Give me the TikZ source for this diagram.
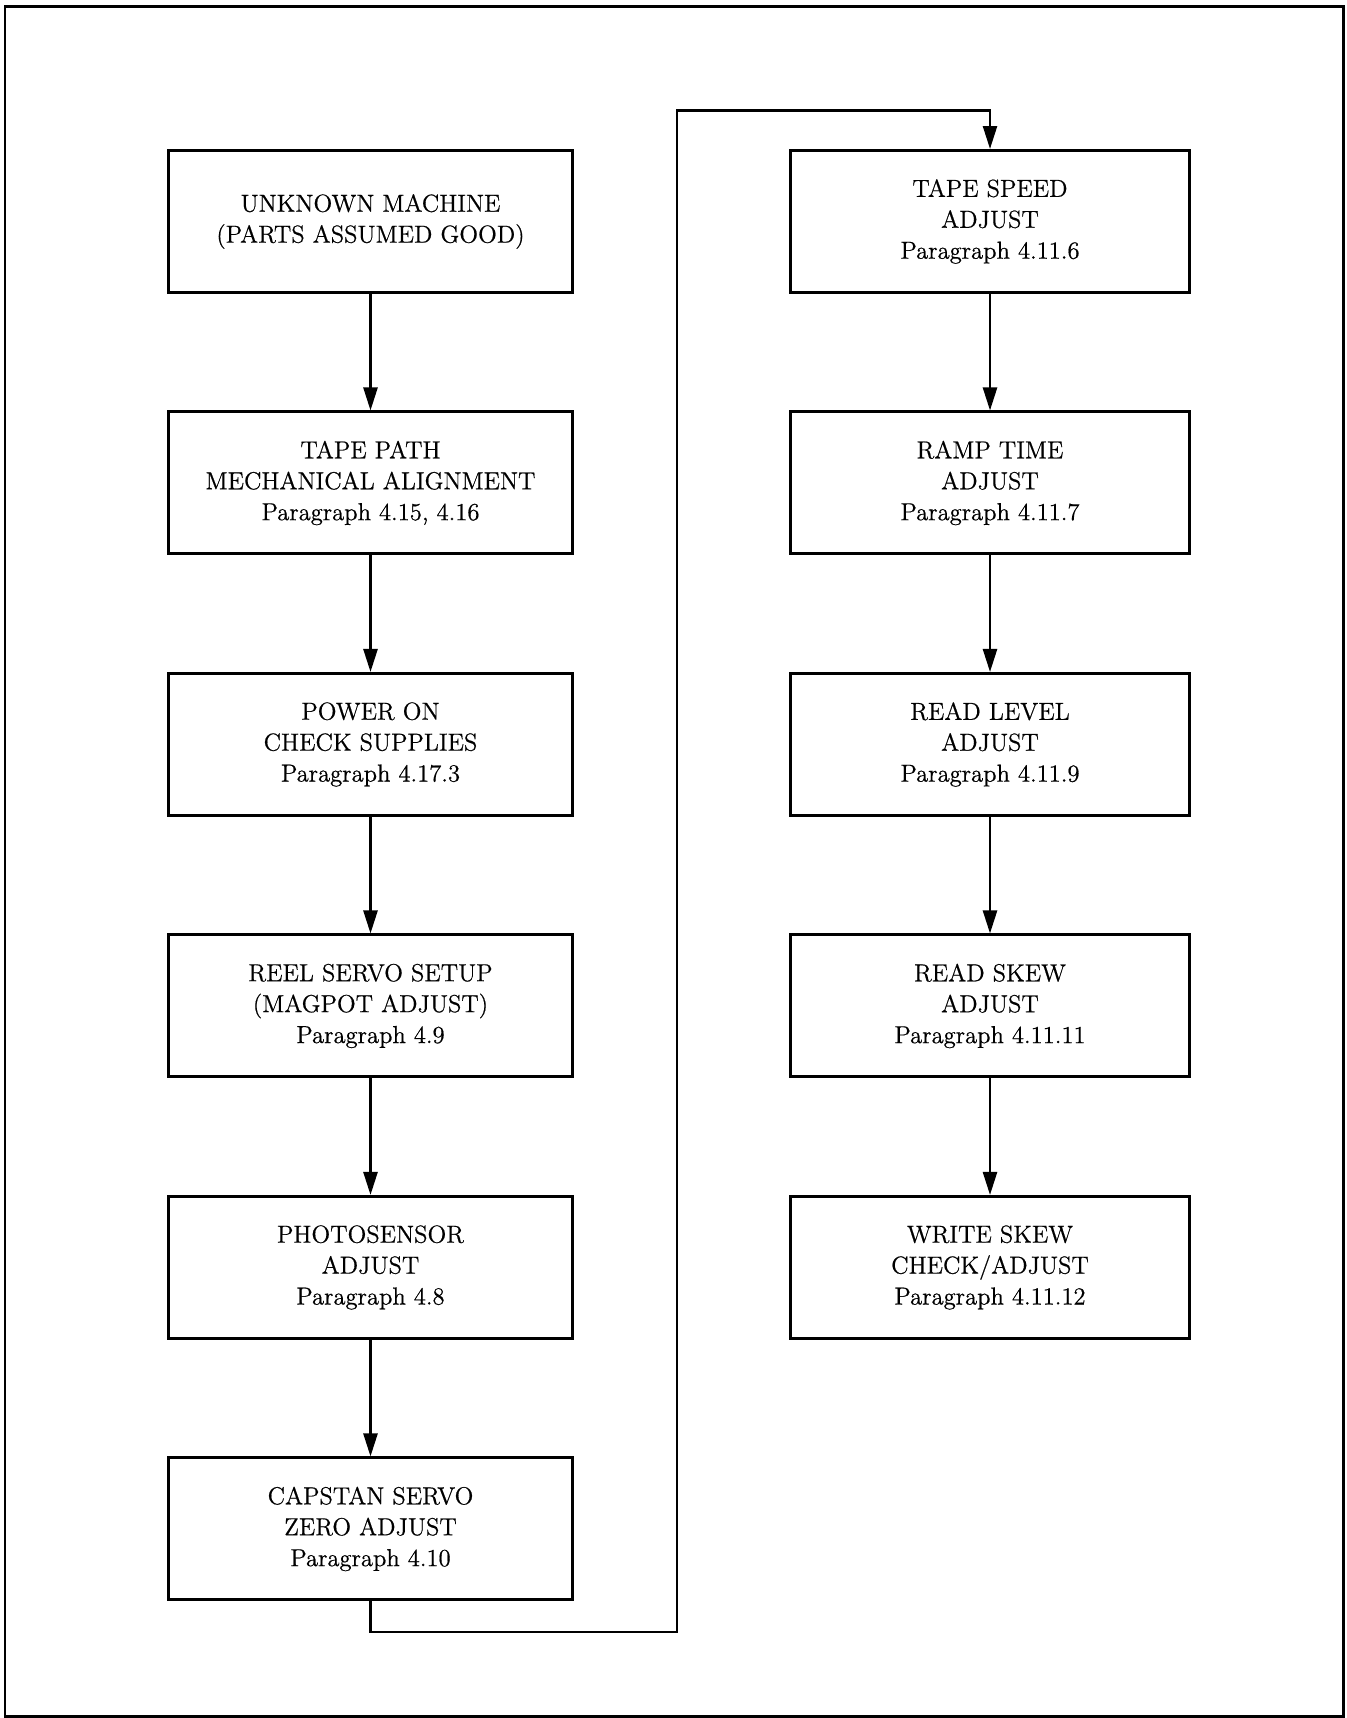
\documentclass[tikz,border=0pt]{standalone}
\usepackage{fontspec}
\usetikzlibrary{arrows.meta,positioning}
\newfontfamily\boxfont{lmroman12-regular.otf}[FakeBold=0.6]
\tikzset{
stepbox/.style={draw=black, line width=1.7pt, fill=white, minimum width=8.09cm, minimum height=2.84cm, align=center, font=\boxfont\fontsize{14}{17.6}\selectfont, inner sep=4pt},
narrowbox/.style={stepbox, minimum width=7.98cm},
arrow/.style={-{Triangle[length=4.6mm,width=2.8mm]}, line width=1.4pt},
frame/.style={line width=1.7pt}
}
\begin{document}
\begin{tikzpicture}[node distance=2.33cm]
\useasboundingbox (0,0) rectangle (26.92,-34.36);
\draw[frame] (0.1,-0.14) rectangle (26.86,-34.32);
% left column
\node[stepbox] (unknown) at (7.41,-4.43) {UNKNOWN MACHINE\\(PARTS ASSUMED GOOD)};
\node[stepbox, below=of unknown] (tapePath) {TAPE PATH\\MECHANICAL ALIGNMENT\\Paragraph 4.15, 4.16};
\node[stepbox, below=of tapePath] (powerOn) {POWER ON\\CHECK SUPPLIES\\Paragraph 4.17.3};
\node[stepbox, below=of powerOn] (reelServo) {REEL SERVO SETUP\\(MAGPOT ADJUST)\\Paragraph 4.9};
\node[stepbox, below=of reelServo] (photo) {PHOTOSENSOR\\ADJUST\\Paragraph 4.8};
\node[stepbox, below=of photo] (capstan) {CAPSTAN SERVO\\ZERO ADJUST\\Paragraph 4.10};
% right column
\node[narrowbox] (tapeSpeed) at (19.8,-4.43) {TAPE SPEED\\ADJUST\\Paragraph 4.11.6};
\node[narrowbox, below=of tapeSpeed] (rampTime) {RAMP TIME\\ADJUST\\Paragraph 4.11.7};
\node[narrowbox, below=of rampTime] (readLevel) {READ LEVEL\\ADJUST\\Paragraph 4.11.9};
\node[narrowbox, below=of readLevel] (readSkew) {READ SKEW\\ADJUST\\Paragraph 4.11.11};
\node[narrowbox, below=of readSkew] (writeSkew) {WRITE SKEW\\CHECK/ADJUST\\Paragraph 4.11.12};
% straight steps
\foreach \a/\b in {unknown/tapePath, tapePath/powerOn, powerOn/reelServo, reelServo/photo, photo/capstan,
  tapeSpeed/rampTime, rampTime/readLevel, readLevel/readSkew, readSkew/writeSkew}
  \draw[arrow] (\a) -- (\b);
% return path to the second column
\coordinate (loopBottom) at (13.54,-32.64);
\coordinate (loopTop) at (13.54,-2.21);
\draw[arrow] (capstan.south) |- (loopBottom) -- (loopTop) -| (tapeSpeed.north);
\end{tikzpicture}
\end{document}
